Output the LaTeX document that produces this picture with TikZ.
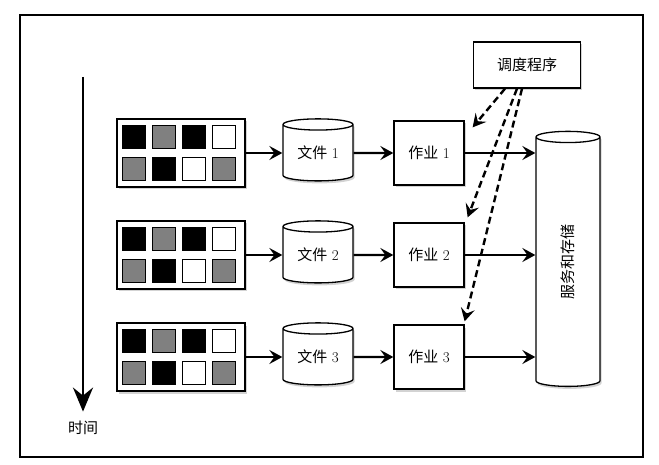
\documentclass[tikz,border=0pt]{standalone}
\usepackage{fontspec}
\newfontfamily\cjk{Noto Sans CJK SC}
\usepackage{tikz}
\usetikzlibrary{calc}
\usetikzlibrary{positioning,shapes.geometric,arrows.meta,shadows}

\begin{document}
\begin{tikzpicture}[
        x=1pt,y=-1pt,
        font=\fontsize{15}{18}\selectfont,
        ShadowCfg/.style={
            drop shadow={shadow xshift=1.5pt,shadow yshift=-2.5pt,opacity=0.35}
        },
        StripCfg/.style={
            draw,line width=1.3pt,fill=white,ShadowCfg,
            minimum width=128pt,minimum height=68pt
        },
        CellCfg/.style={
            draw,line width=0.9pt,minimum size=23pt,inner sep=0pt
        },
        FileCfg/.style={
            cylinder,shape border rotate=90,aspect=0.27,
            draw,line width=1.3pt,fill=white,ShadowCfg,
            minimum width=70pt,minimum height=62pt,inner sep=0pt
        },
        JobCfg/.style={
            draw,line width=1.3pt,fill=white,ShadowCfg,
            minimum width=70pt,minimum height=64pt,inner sep=0pt
        },
        ArrowCfg/.style={
            line width=2.4pt,-{Stealth[length=13pt,width=14pt,inset=5pt]}
        },
        DashCfg/.style={
            ArrowCfg,dash pattern=on 7pt off 4pt
        }
    ]

    \useasboundingbox (0,0) rectangle (659,465);
    \draw[line width=1.2pt] (20,15) rectangle (643,457);

    %time axis
    \node (TimeLbl) at (83,428) {\cjk 时间};
    \coordinate (TimeTop) at (83,77);
    \draw[line width=2.8pt,-{Stealth[length=24pt,width=20pt,inset=8pt]}] (TimeTop)--($(TimeLbl.north)+(0,-6)$);

    %scheduler and storage
    \node[JobCfg,minimum width=107pt,minimum height=46pt] (Sched) at (527,65) {\cjk 调度程序};
    \node[FileCfg,minimum width=64pt,minimum height=255pt] (Store) at (568,262) {\phantom{{\cjk 文件} 1}};
    \node[rotate=90] (StoreLbl) at (Store.center) {\cjk 服务和存储};

    %rows
    \foreach \n/\y in {1/153,2/255,3/357}{
        \node[StripCfg] (Strip\n) at (181,\y) {};
        \foreach \c [count=\i from 0] in {black,gray,black,white}
            \node[CellCfg,fill=\c] (Cell\n a\i) at ($(Strip\n.west)+(18+30*\i,-16)$) {};
        \foreach \c [count=\i from 0] in {gray,black,white,gray}
            \node[CellCfg,fill=\c] (Cell\n b\i) at ($(Strip\n.west)+(18+30*\i,16)$) {};
        \node[FileCfg] (File\n) at (318,\y) {{\cjk 文件} \n};
        \node[JobCfg] (Job\n) at (429,\y) {{\cjk 作业} \n};
        \draw[ArrowCfg] (Strip\n)--(File\n);
        \draw[ArrowCfg] (File\n)--(Job\n);
        \draw[ArrowCfg] (Job\n.east)--(Job\n.east -| Store.west);
    }

    %dispatch
    \draw[DashCfg] ($(Sched.south)+(-22,0)$)--($(Job1.north east)+(8,7)$);
    \draw[DashCfg] ($(Sched.south)+(-10,0)$)--($(Job2.north east)+(3,-5)$);
    \draw[DashCfg] ($(Sched.south)+(-5,0)$)--($(Job3.north east)+(0,-3)$);

\end{tikzpicture}
\end{document}
